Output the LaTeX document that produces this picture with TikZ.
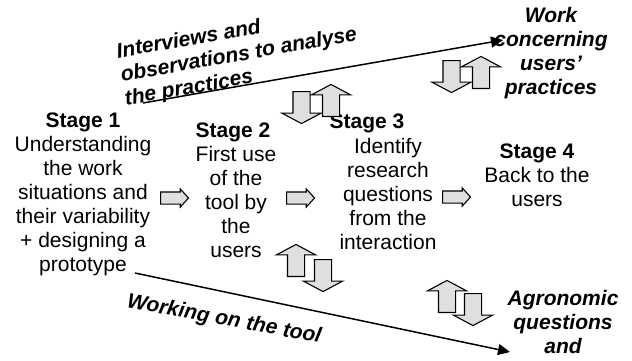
\documentclass[tikz,border=0pt]{standalone}
\usepackage{fontspec}
\setmainfont{Liberation Sans}
\usetikzlibrary{arrows.meta,shapes.arrows}

\tikzset{
  stagehead/.style={font=\fontsize{21}{24}\selectfont\bfseries, inner sep=0pt, anchor=base},
  stagetext/.style={font=\fontsize{21}{24}\selectfont, align=center, inner sep=0pt, anchor=north},
  sidetext/.style={font=\fontsize{21}{24}\selectfont\bfseries\itshape, align=center, inner sep=0pt, anchor=north},
  slanttext/.style={font=\fontsize{21}{24}\selectfont\bfseries\itshape, align=left, inner sep=0pt, anchor=north west},
  flowline/.style={line width=1.5pt, -{Triangle[length=12pt,width=11pt]}},
  nextarrow/.style={single arrow, draw, fill=gray!25, line width=1.1pt, inner xsep=0pt, inner ysep=5.5pt,
    single arrow head extend=3pt, single arrow tip angle=95, minimum height=28pt, anchor=tail},
  linkarrow/.style={single arrow, draw, fill=gray!25, line width=1.1pt, inner xsep=0pt, inner ysep=8pt,
    single arrow head extend=11pt, single arrow tip angle=124, minimum height=32pt, anchor=tail},
}

\begin{document}
\begin{tikzpicture}[x=1pt,y=-1pt]
    \useasboundingbox (0,0) rectangle (632,360);

    % end points of the two long arrows
    \coordinate (obsstart) at (143,103);
    \coordinate (obsend) at (503,40);
    \coordinate (toolstart) at (135,273);
    \coordinate (toolend) at (510,352);

    \draw[flowline] (obsstart) -- (obsend);
    \draw[flowline] (toolstart) -- (toolend);

    % stages
    \node[stagehead] (head1) at (83,127) {Stage 1};
    \node[stagetext] (text1) at (83,135.7) {Understanding\\the work\\situations and\\their variability\\+ designing a\\prototype};
    \node[stagehead] (head2) at (233,137) {Stage 2};
    \node[stagetext] (text2) at (236,145.7) {First use\\of the\\tool by\\the\\users};
    \node[stagehead] (head3) at (367,128) {Stage 3};
    \node[stagetext] (text3) at (388,137.7) {Identify\\research\\questions\\from the\\interaction};
    \node[stagehead] (head4) at (537,158) {Stage 4};
    \node[stagetext] (text4) at (537,166.7) {Back to the\\users};

    % outputs on the right
    \node[sidetext] (practices) at (551,7) {Work\\concerning\\users'\\practices};
    \node[sidetext] (agronomy) at (563,290) {Agronomic\\questions\\and};

    % labels of the long arrows
    \node[slanttext, rotate=10] (obslabel) at (115,43) {Interviews and\\observations to analyse\\the practices};
    \node[slanttext, rotate=-10.5] (toollabel) at (129,292) {Working on the tool};

    % small arrows between stages
    \node[nextarrow] (next12) at (160,198) {};
    \node[nextarrow] (next23) at (286,198) {};
    \node[nextarrow] (next34) at (442,197) {};

    % exchanges with the two outputs
    \node[linkarrow, rotate=-90] (downA) at (301.5,91) {};
    \node[linkarrow, rotate=90] (upA) at (331,117) {};
    \node[linkarrow, rotate=-90] (downB) at (451.5,60) {};
    \node[linkarrow, rotate=90] (upB) at (481,89) {};
    \node[linkarrow, rotate=90] (upC) at (296,277) {};
    \node[linkarrow, rotate=-90] (downC) at (323,259) {};
    \node[linkarrow, rotate=90] (upD) at (447,313) {};
    \node[linkarrow, rotate=-90] (downD) at (473,293) {};
\end{tikzpicture}
\end{document}
